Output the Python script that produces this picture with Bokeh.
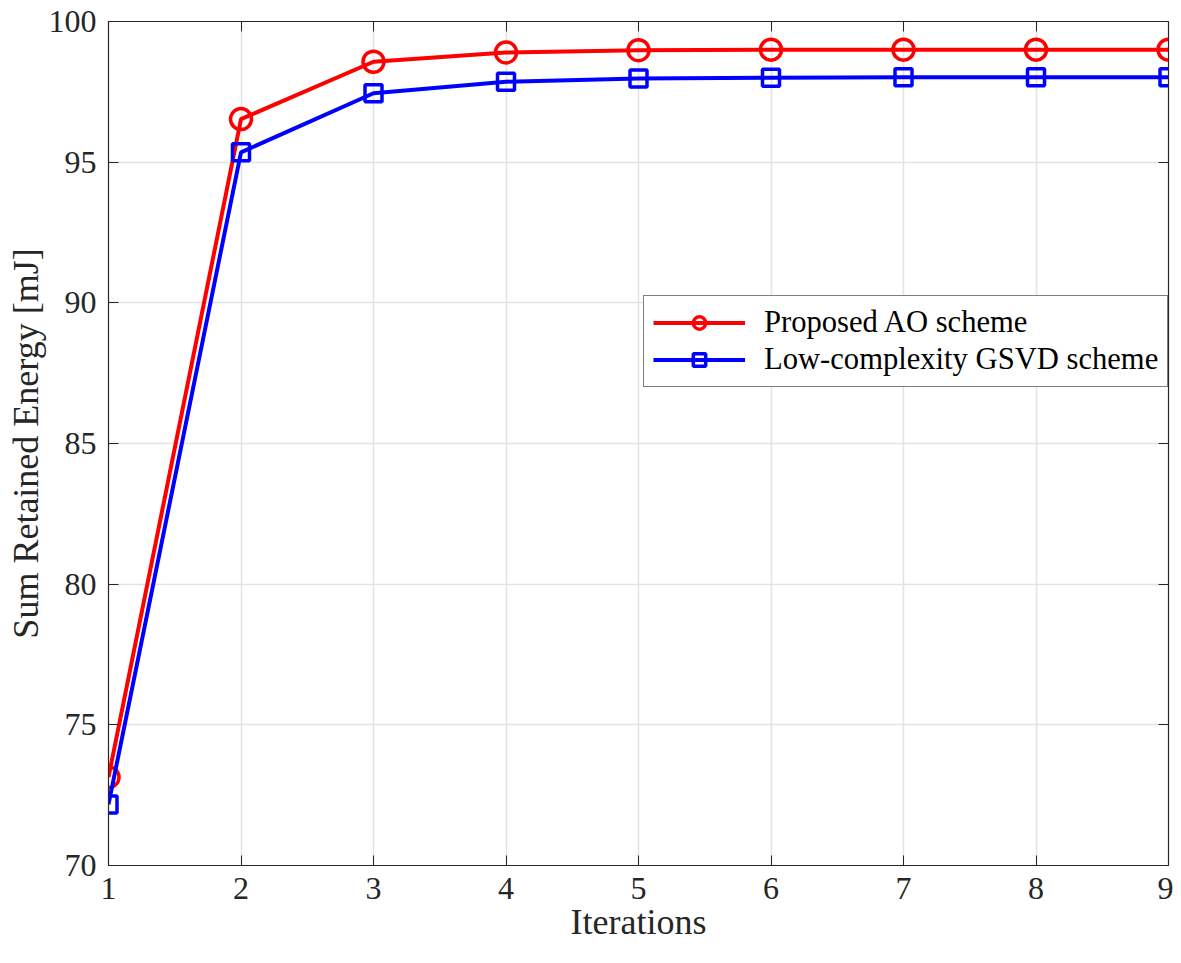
from bokeh.plotting import figure
from bokeh.models import LinearAxis, Legend, LegendItem, FixedTicker, Range1d
from bokeh.embed import file_html
from bokeh.resources import INLINE

iterations = [1, 2, 3, 4, 5, 6, 7, 8, 9]
proposed_ao = [73.14, 96.53, 98.57, 98.9, 98.98, 99.0, 99.0, 99.0, 99.0]
low_gsvd = [72.17, 95.35, 97.45, 97.86, 97.97, 98.0, 98.02, 98.02, 98.02]
x_ticks = [1, 2, 3, 4, 5, 6, 7, 8, 9]
y_ticks = [70, 75, 80, 85, 90, 95, 100]

FONT = "Liberation Serif"
AX = "#262626"

p = figure(width=1173, height=955, output_backend="svg", toolbar_location=None,
           x_range=Range1d(1, 9), y_range=Range1d(70, 100),
           min_border_left=108, min_border_top=21, min_border_right=5,
           min_border_bottom=90)
p.outline_line_color = AX
p.outline_line_width = 1.2

for ax in (p.xaxis[0], p.yaxis[0]):
    ax.major_label_text_font = FONT
    ax.major_label_text_font_size = "32px"
    ax.major_label_text_color = AX
    ax.axis_label_text_font = FONT
    ax.axis_label_text_font_size = "36px"
    ax.axis_label_text_font_style = "normal"
    ax.axis_label_text_color = AX
    ax.axis_line_color = AX
    ax.major_tick_line_color = AX
    ax.major_tick_in = 10
    ax.major_tick_out = 0
    ax.minor_tick_line_color = None
p.xaxis[0].ticker = FixedTicker(ticks=x_ticks)
p.yaxis[0].ticker = FixedTicker(ticks=y_ticks)
p.xaxis[0].axis_label = "Iterations"
p.yaxis[0].axis_label = "Sum Retained Energy [mJ]"
p.xaxis[0].major_label_standoff = 12
p.yaxis[0].major_label_standoff = 12
p.xaxis[0].axis_label_standoff = 0
p.yaxis[0].axis_label_standoff = 0

top = LinearAxis(ticker=FixedTicker(ticks=x_ticks), major_label_text_font_size="0px",
                 major_tick_in=10, major_tick_out=0, minor_tick_line_color=None,
                 axis_line_color=AX, major_tick_line_color=AX)
right = LinearAxis(ticker=FixedTicker(ticks=y_ticks), major_label_text_font_size="0px",
                   major_tick_in=10, major_tick_out=0, minor_tick_line_color=None,
                   axis_line_color=AX, major_tick_line_color=AX)
top.major_label_standoff = 0
right.major_label_standoff = 0
p.add_layout(top, "above")
p.add_layout(right, "right")

p.xgrid.ticker = FixedTicker(ticks=x_ticks)
p.ygrid.ticker = FixedTicker(ticks=y_ticks)
p.grid.grid_line_color = "#e3e3e3"
p.grid.grid_line_width = 1.5

r1 = p.line(iterations, proposed_ao, line_color="#ff0000", line_width=4)
m1 = p.scatter(iterations, proposed_ao, marker="circle", size=21, line_color="#ff0000",
               line_width=3.5, fill_color=None)
r2 = p.line(iterations, low_gsvd, line_color="#0000ff", line_width=4)
m2 = p.scatter(iterations, low_gsvd, marker="square", size=17, line_color="#0000ff",
               line_width=3.5, fill_color=None)

legend = Legend(items=[LegendItem(label="Proposed AO scheme", renderers=[r1, m1]),
                       LegendItem(label="Low-complexity GSVD scheme", renderers=[r2, m2])],
                location=(535, 478))
legend.label_text_font = FONT
legend.label_text_font_size = "30.6px"
legend.label_text_color = "black"
legend.border_line_color = "black"
legend.border_line_width = 1.5
legend.background_fill_alpha = 1
legend.glyph_width = 92
legend.glyph_height = 31
legend.label_standoff = 19
legend.padding = 9
legend.spacing = 2
legend.margin = 0
p.add_layout(legend, "center")

open("out.html", "w").write(file_html(p, INLINE))
